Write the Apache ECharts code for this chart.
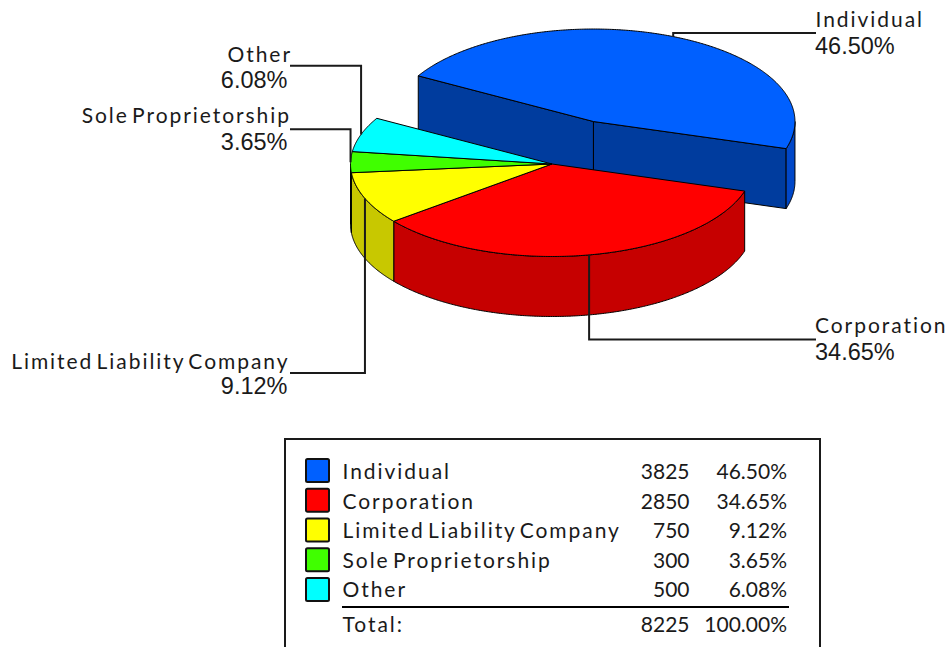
<!DOCTYPE html>
<html><head><meta charset="utf-8">
<style>
html,body{margin:0;padding:0;background:#fff;overflow:hidden}
#c{width:948px;height:647px}
text[style*="Lato, sans-serif"]{letter-spacing:1.95px;word-spacing:-4px}
</style>
<script src="https://cdn.jsdelivr.net/npm/echarts@6/dist/echarts.min.js"></script>
</head><body><div id="c"></div>
<script>
const categories = ['Individual','Corporation','Limited Liability Company','Sole Proprietorship','Other'];
const values = [3825,2850,750,300,500];
const exploded = [1,0,0,0,0];
const topColors = ['#0060ff','#ff0000','#ffff00','#40ff00','#00ffff'];
const wallColors = ['#0047c8','#c60000','#c8c800','#30c800','#00c8c8'];
const innerWallColor = '#003c9e';
const totalLabel = 'Total:';

const total = values.reduce((a,b)=>a+b,0);
const pct = v => (v/total*100).toFixed(2)+'%';

// layout
const CX=552, CY=164, RX=201.5, RY=92.5, DEPTH=60, START=150.4, EXPLODE_X=0.52, EXPLODE_Y=0.5;
const LABEL_FONT='Lato, sans-serif', PLAIN_FONT='Lato', PCT_FONT='"Liberation Sans"';
const labelLayout = [
  {side:'r',x:816,y:33,   nameX:815.5,name:26, p:54},
  {side:'r',x:816,y:339.5,nameX:815,name:332,p:360},
  {side:'l',x:290,y:373,  nameX:289.5,name:368,p:394},
  {side:'l',x:290,y:129.3,nameX:291,name:122,p:150},
  {side:'l',x:290,y:65.7, nameX:292,name:61, p:88}
];

let run=START;
const slices=values.map((v,i)=>{
  const a1=run, a2=run-v/total*360; run=a2;
  const mid=(a1+a2)/2, rad=mid*Math.PI/180, ex=exploded[i]?EXPLODE_X:0, ey=exploded[i]?EXPLODE_Y:0;
  return {a1,a2,mid,cx:CX+RX*ex*Math.cos(rad),cy:CY-RY*ey*Math.sin(rad)};
});
const at=(s,a,dz)=>{const r=a*Math.PI/180;return [s.cx+RX*Math.cos(r),s.cy-RY*Math.sin(r)+(dz||0)];};
const arc=(s,a1,a2,dz)=>{const n=Math.max(2,Math.ceil(Math.abs(a1-a2)*2)),o=[];
  for(let k=0;k<=n;k++)o.push(at(s,a1+(a2-a1)*k/n,dz));return o;};
const poly=(pts,fill)=>({type:'polygon',shape:{points:pts},style:{fill,stroke:'#000',lineWidth:1,lineJoin:'round'}});

function renderSlice(params){
  const i=params.dataIndex,s=slices[i],ch=[];
  if(exploded[i]){
    [s.a1,s.a2].forEach(a=>{
      const p=at(s,a);
      ch.push(poly([[s.cx,s.cy],p,[p[0],p[1]+DEPTH],[s.cx,s.cy+DEPTH]],innerWallColor));
    });
  }
  const hi=Math.min(s.a1,0),lo=Math.max(s.a2,-180);
  if(hi>lo){
    ch.push(poly(arc(s,hi,lo,0).concat(arc(s,lo,hi,DEPTH)),wallColors[i]));
  }
  ch.push(poly([[s.cx,s.cy]].concat(arc(s,s.a1,s.a2,0)),topColors[i]));
  return {type:'group',children:ch};
}
function renderLeader(params){
  const i=params.dataIndex,s=slices[i],L=labelLayout[i];
  const p=at(s,s.mid);
  const left=L.side==='l';
  const px=L.x+(left?-2.5:-1);
  const txt=(t,x,base,font,size,off)=>({type:'text',x,y:base-off,style:{text:t,x:0,y:0,fill:'#1a1a1a',
     font:size+'px '+font,align:left?'right':'left',verticalAlign:'middle'}});
  return {type:'group',children:[
    {type:'polyline',shape:{points:[p,[p[0],L.y],[L.x,L.y]]},style:{fill:null,stroke:'#1a1a1a',lineWidth:2}},
    txt(categories[i],L.nameX,L.name,LABEL_FONT,21,8),
    txt(pct(values[i]),px,L.p,PCT_FONT,23.5,8)
  ]};
}

// legend table
const LG={x:285,y:439,r:820,b:660,sx:306,sw:23,sy:459,step:29.75,tx:342.5,nr:689.5,pr:787};
const bases=[478.5,508.3,537.8,567.3,596.3];
const TOTAL_BASE=631.5, RULE_Y=607, RULE_R=789;
const gtext=(t,x,base,font,align)=>({type:'text',x,y:base-8,silent:true,style:{text:t,x:0,y:0,fill:'#1a1a1a',font:'21px '+font,align,verticalAlign:'middle'}});
const legend=[{type:'rect',shape:{x:LG.x,y:LG.y,width:LG.r-LG.x,height:LG.b-LG.y},style:{fill:'#fff',stroke:'#1a1a1a',lineWidth:2}}];
categories.forEach((c,i)=>{
  legend.push({type:'rect',shape:{x:LG.sx,y:LG.sy+i*LG.step,width:LG.sw,height:LG.sw,r:1.5},style:{fill:topColors[i],stroke:'#111',lineWidth:2}});
  legend.push(gtext(c,LG.tx,bases[i],LABEL_FONT,'left'));
  legend.push(gtext(String(values[i]),LG.nr,bases[i],PLAIN_FONT,'right'));
  legend.push(gtext(pct(values[i]),LG.pr,bases[i],PLAIN_FONT,'right'));
});
legend.push({type:'line',shape:{x1:LG.tx-0.5,y1:RULE_Y,x2:RULE_R,y2:RULE_Y},style:{stroke:'#000',lineWidth:2}});
legend.push(gtext(totalLabel,LG.tx,TOTAL_BASE,LABEL_FONT,'left'));
legend.push(gtext(String(total),LG.nr,TOTAL_BASE,PLAIN_FONT,'right'));
legend.push(gtext('100.00%',LG.pr,TOTAL_BASE,PLAIN_FONT,'right'));

const chart=echarts.init(document.getElementById('c'),null,{renderer:'svg',width:948,height:647});
const rows=categories.map((c,i)=>({name:c,value:values[i]}));
chart.setOption({
  animation:false,
  backgroundColor:'#fff',
  graphic:{elements:legend},
  series:[
    {type:'custom',coordinateSystem:'none',silent:true,z:2,data:rows,renderItem:renderSlice},
    {type:'custom',coordinateSystem:'none',silent:true,z:3,data:rows,renderItem:renderLeader}
  ]
});
</script></body></html>
